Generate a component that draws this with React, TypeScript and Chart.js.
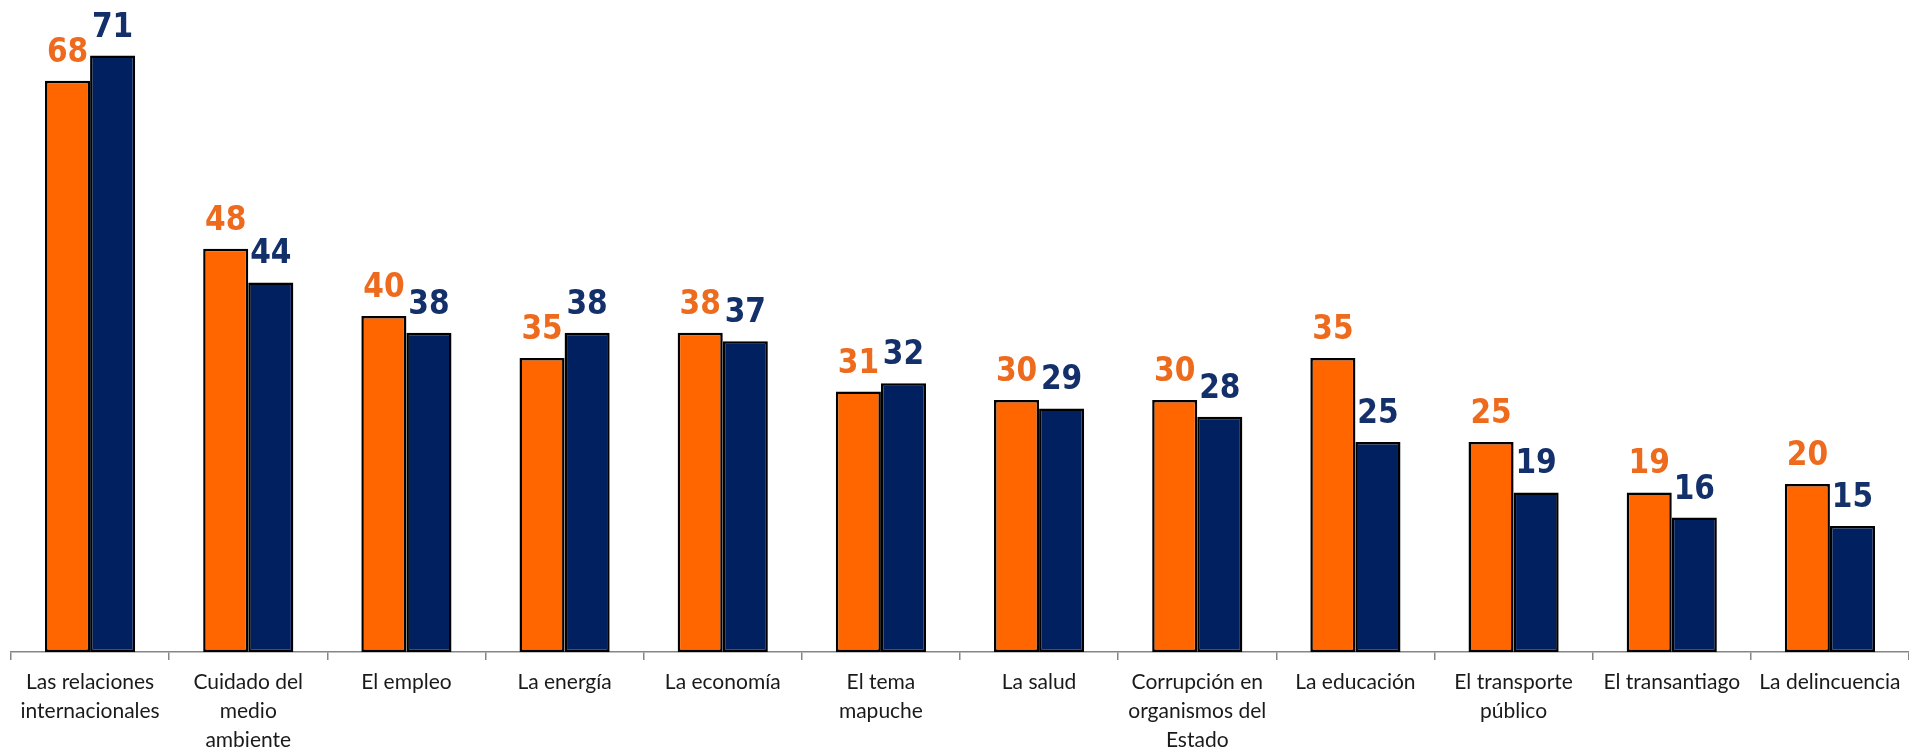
import React, { useEffect, useRef } from "react";
import { Chart, registerables } from "chart.js";

Chart.register(...registerables);

const categories: (string | string[])[] = [
  ["Las relaciones", "internacionales"],
  ["Cuidado del", "medio", "ambiente"],
  "El empleo",
  "La energía",
  "La economía",
  ["El tema", "mapuche"],
  "La salud",
  ["Corrupción en", "organismos del", "Estado"],
  "La educación",
  ["El transporte", "público"],
  "El transantiago",
  "La delincuencia",
];

const seriesOrange: number[] = [68, 48, 40, 35, 38, 31, 30, 30, 35, 25, 19, 20];
const seriesNavy: number[] = [71, 44, 38, 38, 37, 32, 29, 28, 25, 19, 16, 15];

const ORANGE = "#FF6600";
const NAVY = "#002060";
const ORANGE_LABEL = "#EE6A1C";
const NAVY_LABEL = "#14306A";

const valueLabels = {
  id: "valueLabels",
  afterDatasetsDraw(chart: any) {
    const ctx = chart.ctx;
    ctx.save();
    ctx.font = 'bold 33px "DejaVu Sans Condensed", "DejaVu Sans", sans-serif';
    ctx.textAlign = "center";
    ctx.textBaseline = "alphabetic";
    chart.data.datasets.forEach((ds: any, di: number) => {
      const meta = chart.getDatasetMeta(di);
      ctx.fillStyle = di === 0 ? ORANGE_LABEL : NAVY_LABEL;
      meta.data.forEach((el: any, i: number) => {
        ctx.fillText(String(ds.data[i]), el.x, el.y - 19);
      });
    });
    ctx.restore();
  },
};

export default function App() {
  const ref = useRef<HTMLCanvasElement>(null);
  useEffect(() => {
    document.body.style.margin = "0";
    if (!ref.current) return;
    const chart = new Chart(ref.current, {
      type: "bar",
      data: {
        labels: categories,
        datasets: [
          {
            data: seriesOrange,
            backgroundColor: ORANGE,
            borderColor: "#000000",
            borderWidth: 2.5,
            borderSkipped: false,
          },
          {
            data: seriesNavy,
            backgroundColor: NAVY,
            borderColor: "#000000",
            borderWidth: 2.5,
            borderSkipped: false,
          },
        ],
      },
      options: {
        animation: false,
        responsive: true,
        maintainAspectRatio: false,
        devicePixelRatio: 1,
        layout: { padding: { left: 11, right: 0, top: 22, bottom: 0 } },
        plugins: {
          legend: { display: false },
          tooltip: { enabled: false },
        },
        datasets: {
          bar: { categoryPercentage: 0.57, barPercentage: 1.0 },
        },
        scales: {
          x: {
            afterFit: (scale: any) => {
              scale.height = 99;
            },
            border: { display: true, color: "#868686", width: 1.5 },
            grid: {
              display: true,
              drawOnChartArea: false,
              drawTicks: true,
              tickLength: 8,
              color: "#868686",
              lineWidth: 1.5,
              offset: true,
            },
            ticks: {
              color: "#1a1a1a",
              padding: 8,
              maxRotation: 0,
              autoSkip: false,
              font: { family: "Lato, 'Noto Sans', sans-serif", size: 21, lineHeight: 1.37 },
            },
          },
          y: {
            display: false,
            min: 0,
            max: 75,
          },
        },
      },
      plugins: [valueLabels],
    });
    return () => chart.destroy();
  }, []);
  return (
    <div style={{ width: "1909px", height: "751px", position: "relative" }}>
      <canvas ref={ref} />
    </div>
  );
}
